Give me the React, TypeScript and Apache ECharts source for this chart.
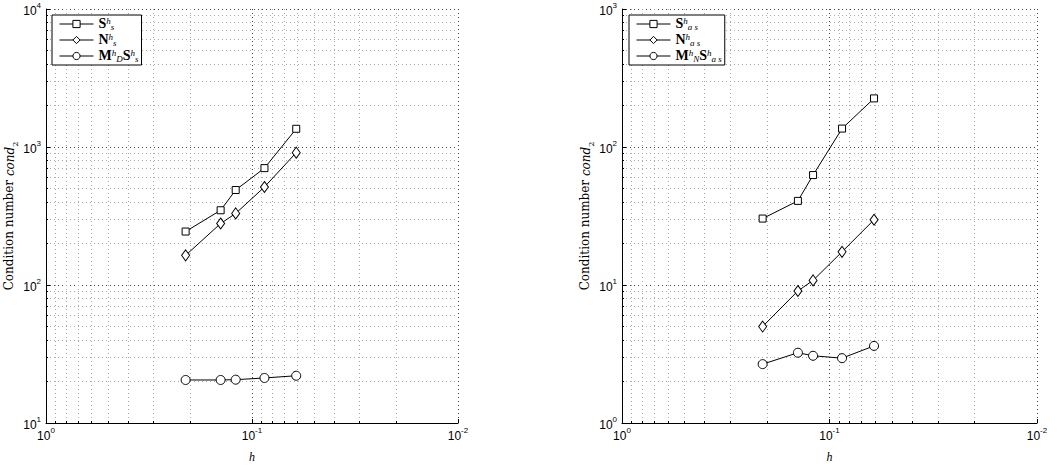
import React, { useEffect, useRef } from 'react';
import * as echarts from 'echarts';

const hValues = [0.21, 0.142, 0.12, 0.087, 0.061];
const leftS = [244, 348, 488, 703, 1355];
const leftN = [164, 279, 330, 513, 910];
const leftMS = [20.5, 20.5, 20.6, 21.2, 22.0];
const rightS = [30.3, 40.7, 62.6, 136, 225];
const rightN = [5.0, 9.05, 10.8, 17.4, 29.7];
const rightMS = [2.67, 3.23, 3.07, 2.95, 3.62];

const leftNames = ['Ss', 'Ns', 'MSs'];
const rightNames = ['Sas', 'Nas', 'MSas'];
const legendLabels: Record<string, string> = {
  Ss: '{B|S}{sup|h}{sub|s}',
  Ns: '{B|N}{sup|h}{sub|s}',
  MSs: '{B|M}{sup|h}{sub|D}{B|S}{sup|h}{sub|s}',
  Sas: '{B|S}{sup|h}{sub|a s}',
  Nas: '{B|N}{sup|h}{sub|a s}',
  MSas: '{B|M}{sup|h}{sub|N}{B|S}{sup|h}{sub|a s}',
};

const SERIF = '"Liberation Serif", "DejaVu Serif", serif';
const SERIF2 = '"DejaVu Serif", serif';
const SANS = '"Liberation Sans", Arial, sans-serif';

export default function App() {
  const ref = useRef<HTMLDivElement>(null);
  useEffect(() => {
    if (!ref.current) return;
    const chart = echarts.init(ref.current, null, { renderer: 'svg' });

    const mk = (name: string, ys: number[], symbol: string, size: any, idx: number) => ({
      type: 'line',
      name,
      xAxisIndex: idx,
      yAxisIndex: idx,
      data: hValues.map((h, i) => [h, ys[i]]),
      symbol,
      symbolSize: size,
      showSymbol: true,
      lineStyle: { color: '#000', width: 1 },
      itemStyle: { color: '#fff', borderColor: '#000', borderWidth: 1 },
      z: 5,
    });

    const legendRich = {
      B: { fontFamily: SERIF, fontWeight: 'bold', fontSize: 14, color: '#000', lineHeight: 15, verticalAlign: 'middle' },
      sup: { fontFamily: SERIF, fontStyle: 'italic', fontSize: 9, color: '#000', verticalAlign: 'top', lineHeight: 8 },
      sub: { fontFamily: SERIF, fontStyle: 'italic', fontSize: 9, color: '#000', verticalAlign: 'bottom', lineHeight: 8 },
    };

    const mkLegend = (names: string[], left: number) => ({
      data: names,
      left,
      top: 15,
      orient: 'vertical',
      backgroundColor: '#fff',
      borderColor: '#000',
      borderWidth: 1,
      borderRadius: 0,
      padding: [1, 3, 1, 7],
      itemGap: 0,
      itemWidth: 34,
      itemHeight: 9,
      itemStyle: { color: '#fff', borderColor: '#000', borderWidth: 1 },
      lineStyle: { color: '#000', width: 1 },
      formatter: (n: string) => legendLabels[n],
      textStyle: { rich: legendRich, height: 16, lineHeight: 16 },
      selectedMode: false,
    });

    const axisLabelRich = {
      b: { fontFamily: SANS, fontSize: 12, color: '#000', lineHeight: 16, verticalAlign: 'bottom' },
      e: { fontFamily: SANS, fontSize: 8, color: '#000', lineHeight: 10, verticalAlign: 'top' },
    };
    const fmt = (v: number) => {
      const e = Math.round(Math.log10(v));
      return `{b|10}{e|${e}}`;
    };

    const majorGrid = { show: true, lineStyle: { color: '#444', width: 1, type: [1, 3] } };
    const minorGrid = { show: true, lineStyle: { color: '#aaa', width: 1, type: [1, 3] } };

    const mkX = (gi: number) => ({
      type: 'log',
      gridIndex: gi,
      min: 0.01,
      max: 1,
      inverse: true,
      logBase: 10,
      name: 'h',
      nameLocation: 'middle',
      nameGap: 28,
      nameTextStyle: { fontFamily: SERIF, fontStyle: 'italic', fontSize: 12, color: '#000' },
      axisLine: { show: true, lineStyle: { color: '#000', width: 1 } },
      axisTick: { show: true, inside: true, length: 4, lineStyle: { color: '#000' } },
      minorTick: { show: true, splitNumber: 9, length: 2, lineStyle: { color: '#000' } },
      splitLine: majorGrid,
      minorSplitLine: minorGrid,
      axisLabel: { formatter: fmt, rich: axisLabelRich, margin: 3 },
    });

    const mkY = (gi: number, min: number, max: number) => ({
      type: 'log',
      gridIndex: gi,
      min,
      max,
      logBase: 10,
      name: 'Condition number {i|cond}{s|2}',
      nameLocation: 'middle',
      nameGap: 29,
      nameTextStyle: {
        fontFamily: SERIF2,
        fontSize: 12,
        color: '#000',
        rich: {
          i: { fontFamily: SERIF2, fontStyle: 'italic', fontSize: 12, color: '#000', verticalAlign: 'bottom', lineHeight: 14 },
          s: { fontFamily: SERIF2, fontSize: 8, color: '#000', verticalAlign: 'bottom', lineHeight: 10, padding: [0, 0, -3, 0] },
        },
      },
      axisLine: { show: true, lineStyle: { color: '#000', width: 1 } },
      axisTick: { show: true, inside: true, length: 4, lineStyle: { color: '#000' } },
      minorTick: { show: true, splitNumber: 9, length: 2, lineStyle: { color: '#000' } },
      splitLine: majorGrid,
      minorSplitLine: minorGrid,
      axisLabel: { formatter: fmt, rich: axisLabelRich, margin: 5 },
    });

    chart.setOption({
      animation: false,
      backgroundColor: '#fff',
      grid: [
        { left: 46, top: 9, width: 412, height: 417 },
        { left: 622, top: 9, width: 415, height: 417 },
      ],
      xAxis: [mkX(0), mkX(1)],
      yAxis: [mkY(0, 10, 10000), mkY(1, 1, 1000)],
      legend: [mkLegend(leftNames, 52), mkLegend(rightNames, 629)],
      series: [
        mk('Ss', leftS, 'rect', 7, 0),
        mk('Ns', leftN, 'diamond', [8, 11], 0),
        mk('MSs', leftMS, 'circle', 9, 0),
        mk('Sas', rightS, 'rect', 7, 1),
        mk('Nas', rightN, 'diamond', [8, 11], 1),
        mk('MSas', rightMS, 'circle', 9, 1),
      ],
    });
    return () => chart.dispose();
  }, []);
  return <div ref={ref} style={{ position: 'fixed', left: 0, top: 0, width: 1057, height: 468 }} />;
}
